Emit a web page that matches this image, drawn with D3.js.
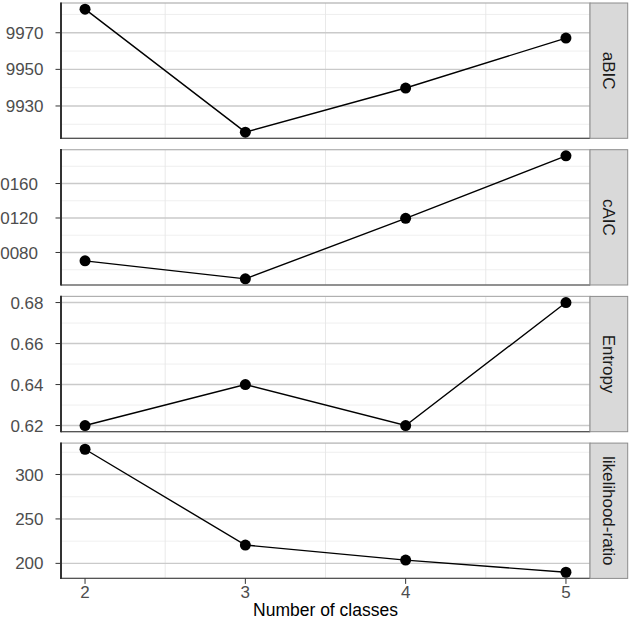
<!DOCTYPE html>
<html><head><meta charset="utf-8">
<script src="https://cdn.jsdelivr.net/npm/d3@7"></script>
<style>
html,body{margin:0;padding:0;background:#fff;}
svg{display:block;font-family:"Liberation Sans",Arial,Helvetica,sans-serif;}
</style></head>
<body>
<svg id="chart" width="629" height="618"></svg>
<script>
const classes = [2, 3, 4, 5];
const facetNames = ["aBIC", "cAIC", "Entropy", "likelihood-ratio"];
const aBIC = [9982.9, 9915.7, 9939.8, 9967.1];
const cAIC = [10070.3, 10049.4, 10119.6, 10192.1];
const entropy = [0.62, 0.64, 0.62, 0.68];
const likelihoodRatio = [328.4, 220.6, 203.7, 190.0];
const yTicks = [
  [9930, 9950, 9970],
  [10080, 10120, 10160],
  [0.62, 0.64, 0.66, 0.68],
  [200, 250, 300]
];
const yMinorTicks = [
  [9920, 9940, 9960, 9980],
  [10060, 10100, 10140, 10180],
  [0.63, 0.65, 0.67],
  [225, 275, 325]
];
const yTickLabels = [
  ["9930", "9950", "9970"],
  ["10080", "10120", "10160"],
  ["0.62", "0.64", "0.66", "0.68"],
  ["200", "250", "300"]
];
const xTicks = [2, 3, 4, 5];
const xMinorTicks = [2.5, 3.5, 4.5];
const xTitle = "Number of classes";
const seriesList = [aBIC, cAIC, entropy, likelihoodRatio];

const svg = d3.select("#chart");
const left = 61, right = 590, stripW = 37.7;
const top0 = 3, panelH = 135.3, step = 146.7;

const x = d3.scaleLinear().domain([2 - 0.15, 5 + 0.15]).range([left, right]);
const labelOffset = [0, -5.5, 0, 0];

seriesList.forEach((vals, i) => {
  const top = top0 + i * step, bottom = top + panelH;
  const [mn, mx] = d3.extent(vals);
  const pad = (mx - mn) * 0.05;
  const y = d3.scaleLinear().domain([mn - pad, mx + pad]).range([bottom, top]);
  const g = svg.append("g");
  g.append("rect").attr("x", left).attr("y", top).attr("width", right - left).attr("height", panelH).attr("fill", "#fff");
  // minor grid
  g.selectAll(".ymin").data(yMinorTicks[i]).enter().append("line")
    .attr("x1", left).attr("x2", right).attr("y1", d => y(d)).attr("y2", d => y(d))
    .attr("stroke", "#ebebeb").attr("stroke-width", 0.8);
  g.selectAll(".xmin").data(xMinorTicks).enter().append("line")
    .attr("x1", d => x(d)).attr("x2", d => x(d)).attr("y1", top).attr("y2", bottom)
    .attr("stroke", "#e6e6e6").attr("stroke-width", 0.9);
  // major grid
  g.selectAll(".ymaj").data(yTicks[i]).enter().append("line")
    .attr("x1", left).attr("x2", right).attr("y1", d => y(d)).attr("y2", d => y(d))
    .attr("stroke", "#cacaca").attr("stroke-width", 1.4);
  // border
  g.append("rect").attr("x", left).attr("y", top).attr("width", right - left).attr("height", panelH)
    .attr("fill", "none").attr("stroke", "#b0b0b0").attr("stroke-width", 1.2);
  // axis lines
  g.append("line").attr("x1", left).attr("x2", right).attr("y1", bottom).attr("y2", bottom)
    .attr("stroke", "#555").attr("stroke-width", 1.2);
  g.append("line").attr("x1", left).attr("x2", left).attr("y1", top - 0.6).attr("y2", bottom + 0.6)
    .attr("stroke", "#333").attr("stroke-width", 2);
  // y ticks
  const yt = g.selectAll(".yt").data(yTicks[i]).enter().append("g");
  yt.append("line").attr("x1", left - 5.5).attr("x2", left).attr("y1", d => y(d)).attr("y2", d => y(d))
    .attr("stroke", "#333").attr("stroke-width", 1);
  yt.append("text").attr("x", 43.5 + labelOffset[i]).attr("y", d => y(d)).attr("dy", "0.36em")
    .attr("text-anchor", "end").attr("font-size", 17).attr("fill", "#4d4d4d")
    .text((d, k) => yTickLabels[i][k]);
  // strip
  g.append("rect").attr("x", right).attr("y", top).attr("width", stripW).attr("height", panelH)
    .attr("fill", "#d9d9d9").attr("stroke", "#8c8c8c").attr("stroke-width", 1);
  g.append("text").attr("transform", `translate(${right + stripW / 2},${top + panelH / 2}) rotate(90)`)
    .attr("text-anchor", "middle").attr("dy", "0.36em").attr("font-size", 17).attr("fill", "#1a1a1a")
    .text(facetNames[i]);
  // data
  const line = d3.line().x((d, k) => x(classes[k])).y(d => y(d));
  g.append("path").datum(vals).attr("d", line).attr("fill", "none").attr("stroke", "#000").attr("stroke-width", 1.4);
  g.selectAll(".pt").data(vals).enter().append("circle")
    .attr("cx", (d, k) => x(classes[k])).attr("cy", d => y(d)).attr("r", 5.5).attr("fill", "#000");
  // x axis on bottom panel
  if (i === seriesList.length - 1) {
    const xt = g.selectAll(".xt").data(xTicks).enter().append("g");
    xt.append("line").attr("x1", d => x(d)).attr("x2", d => x(d)).attr("y1", bottom).attr("y2", bottom + 5.5)
      .attr("stroke", "#333").attr("stroke-width", 1);
    xt.append("text").attr("x", d => x(d)).attr("y", bottom + 19.5).attr("text-anchor", "middle")
      .attr("font-size", 17).attr("fill", "#4d4d4d").text(d => d);
    svg.append("text").attr("x", (left + right) / 2).attr("y", 616).attr("text-anchor", "middle")
      .attr("font-size", 17.5).attr("fill", "#000").text(xTitle);
  }
});
</script>
</body></html>
